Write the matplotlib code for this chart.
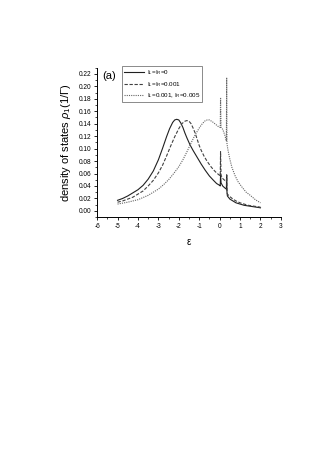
import matplotlib
matplotlib.use('Agg')
import matplotlib.pyplot as plt
from matplotlib.ticker import MultipleLocator, FormatStrFormatter

plt.rcParams['font.family'] = ['Liberation Sans', 'DejaVu Sans']
plt.rcParams['axes.unicode_minus'] = False
plt.rcParams['mathtext.fontset'] = 'custom'
plt.rcParams['mathtext.rm'] = 'Liberation Sans'
plt.rcParams['mathtext.it'] = 'Liberation Sans:italic'

# I_L = I_R = 0
eps_a = [-5.0, -4.75, -4.5, -4.25, -4.0, -3.75, -3.5, -3.25, -3.0, -2.8, -2.6,
         -2.45, -2.3, -2.2, -2.1, -2.0, -1.9, -1.8, -1.7, -1.6, -1.45, -1.3,
         -1.1, -0.9, -0.7, -0.5, -0.3, -0.15, 0.0, 0.03, 0.045, 0.07, 0.15, 0.25,
         0.33, 0.345, 0.36, 0.38, 0.5, 0.65, 0.8, 1.0, 1.2, 1.4, 1.6, 1.8, 2.0]
dos_a = [0.017, 0.020, 0.024, 0.029, 0.034, 0.041, 0.051, 0.064, 0.082, 0.100,
         0.119, 0.132, 0.142, 0.146, 0.147, 0.146, 0.141, 0.134, 0.125, 0.117,
         0.106, 0.097, 0.086, 0.075, 0.065, 0.056, 0.049, 0.044, 0.041, 0.040,
         0.058, 0.045, 0.040, 0.037, 0.035, 0.057, 0.030, 0.024, 0.019, 0.016,
         0.013, 0.011, 0.009, 0.008, 0.007, 0.006, 0.005]

# I_L = I_R = 0.001
eps_b = [-5.0, -4.75, -4.5, -4.25, -4.0, -3.75, -3.5, -3.25, -3.0, -2.8, -2.6,
         -2.4, -2.2, -2.0, -1.85, -1.7, -1.6, -1.5, -1.4, -1.3, -1.2, -1.1, -1.0,
         -0.9, -0.75, -0.6, -0.45, -0.3, -0.15, 0.0, 0.03, 0.045, 0.07, 0.15,
         0.25, 0.33, 0.345, 0.36, 0.38, 0.5, 0.65, 0.8, 1.0, 1.2, 1.4, 1.6, 1.8,
         2.0]
dos_b = [0.014, 0.016, 0.019, 0.022, 0.027, 0.032, 0.040, 0.049, 0.061, 0.073,
         0.088, 0.104, 0.119, 0.132, 0.140, 0.144, 0.145, 0.144, 0.140, 0.133,
         0.125, 0.115, 0.105, 0.097, 0.087, 0.079, 0.072, 0.066, 0.061, 0.057,
         0.056, 0.095, 0.057, 0.052, 0.049, 0.047, 0.058, 0.031, 0.027, 0.023,
         0.019, 0.016, 0.013, 0.011, 0.009, 0.008, 0.007, 0.006]

# I_L = 0.001, I_R = 0.005
eps_c = [-5.0, -4.5, -4.0, -3.5, -3.0, -2.75, -2.5, -2.25, -2.0, -1.8, -1.6,
         -1.4, -1.2, -1.0, -0.85, -0.7, -0.6, -0.5, -0.35, -0.2, -0.05, 0.03,
         0.045, 0.07, 0.15, 0.25, 0.33, 0.345, 0.36, 0.4, 0.5, 0.6, 0.75, 0.9,
         1.1, 1.3, 1.5, 1.75, 2.0]
dos_c = [0.011, 0.014, 0.018, 0.025, 0.035, 0.042, 0.050, 0.060, 0.071, 0.082,
         0.095, 0.109, 0.122, 0.133, 0.140, 0.145, 0.146, 0.146, 0.143, 0.139,
         0.135, 0.134, 0.182, 0.134, 0.131, 0.122, 0.112, 0.214, 0.108, 0.099,
         0.083, 0.070, 0.057, 0.047, 0.038, 0.030, 0.025, 0.018, 0.013]

labels = ['I$_L$=I$_R$=0', 'I$_L$=I$_R$=0.001', 'I$_L$=0.001, I$_R$=0.005']

fig = plt.figure(figsize=(3.27, 4.63), dpi=100)
ax = fig.add_axes([0.297, 0.531, 0.562, 0.323])

ax.plot(eps_a, dos_a, color='#202020', lw=0.8, ls='-', label=labels[0])
ax.plot(eps_b, dos_b, color='#404040', lw=0.8, ls=(0, (3, 1.5)), label=labels[1])
ax.plot(eps_c, dos_c, color='#666666', lw=0.8, ls=(0, (1, 1)), label=labels[2])

ax.set_xlim(-6, 3)
ax.set_ylim(-0.01, 0.23)
ax.xaxis.set_major_locator(MultipleLocator(1))
ax.xaxis.set_minor_locator(MultipleLocator(0.5))
ax.yaxis.set_minor_locator(MultipleLocator(0.01))
ax.yaxis.set_major_formatter(FormatStrFormatter('%.2f'))
ax.set_yticks([i * 0.02 for i in range(12)])

for s in ['top', 'right']:
    ax.spines[s].set_visible(False)
for s in ['left', 'bottom']:
    ax.spines[s].set_linewidth(0.7)
ax.tick_params(which='major', direction='out', length=2.5, width=0.6,
               labelsize=4.7, pad=1.5)
ax.tick_params(which='minor', direction='out', length=1.3, width=0.5)

ax.set_xlabel('ε', fontsize=7, labelpad=5)
ax.set_ylabel(r'density of states $\rho_1$(1/Γ)', fontsize=8, labelpad=4)

ax.text(0.03, 0.975, '(a)', transform=ax.transAxes, fontsize=8,
        ha='left', va='top')

leg = ax.legend(loc='upper left', bbox_to_anchor=(0.135, 1.01), fontsize=4.5,
                frameon=True, fancybox=False, edgecolor='#555555',
                handlelength=3.2, handletextpad=0.4, borderpad=0.35,
                labelspacing=0.4, borderaxespad=0)
leg.get_frame().set_linewidth(0.6)

fig.savefig('out.png', dpi=100)
